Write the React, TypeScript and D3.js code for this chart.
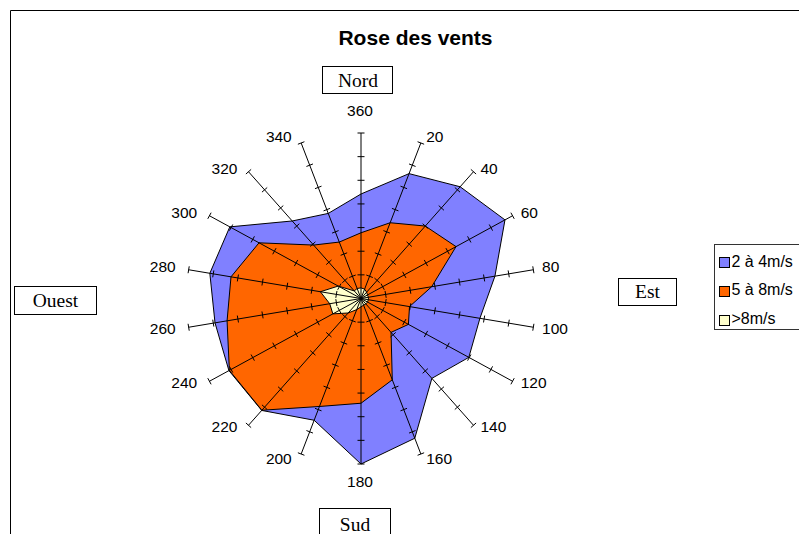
import React from "react";
import * as d3 from "d3";

const directions = [360, 20, 40, 60, 80, 100, 120, 140, 160, 180, 200, 220, 240, 260, 280, 300, 320, 340];
const series2a4 = [4.42, 5.62, 6.17, 6.65, 5.44, 4.83, 4.98, 4.41, 6.29, 7.0, 5.48, 6.18, 6.1, 5.93, 6.14, 6.06, 4.28, 3.83];
const series5a8 = [2.78, 3.41, 4.0, 4.39, 2.87, 1.97, 2.19, 1.87, 3.66, 4.43, 4.86, 6.17, 6.08, 5.44, 5.28, 4.71, 2.95, 2.54];
const seriesPlus8 = [0.45, 0.42, 0.35, 0.3, 0.3, 0.3, 0.3, 0.3, 0.3, 0.35, 0.5, 0.8, 1.3, 1.27, 1.65, 1.05, 0.42, 0.45];
const seriesNames = ["2 à 4m/s", "5 à 8m/s", ">8m/s"];
const seriesColors = ["#8080FF", "#FF6600", "#FFFFCC"];
const axisMax = 7;
const tickValues = [1, 2, 3, 4, 5, 6, 7];

const W = 799;
const H = 534;
const cx = 361;
const cy = 298.5;
const Rx = 175;
const Ry = 165.5;

const rx = d3.scaleLinear().domain([0, axisMax]).range([0, Rx]);
const ry = d3.scaleLinear().domain([0, axisMax]).range([0, Ry]);
const angle = d3.scaleLinear().domain([0, directions.length]).range([0, 2 * Math.PI]);

function pt(i: number, v: number): [number, number] {
  const a = angle(i);
  return [cx + rx(v) * Math.sin(a), cy - ry(v) * Math.cos(a)];
}

const lineGen = d3.line<[number, number]>().curve(d3.curveLinearClosed);

export default function App() {
  const allSeries = [series2a4, series5a8, seriesPlus8];
  const sans = "Liberation Sans, Arial, sans-serif";
  const serif = "Liberation Serif, Times New Roman, serif";

  return (
    <div style={{ position: "absolute", left: 0, top: 0 }}>
      <svg width={W} height={H} style={{ display: "block", background: "#fff" }}>
        <path d={`M10.5,${H} V10.5 H${W}`} fill="none" stroke="#000" strokeWidth={1} />
        <text x={415.5} y={45} textAnchor="middle" fontFamily={sans} fontWeight="bold" fontSize={21}>
          Rose des vents
        </text>

        {allSeries.map((s, k) => (
          <path
            key={k}
            d={lineGen(s.map((v, i) => pt(i, v))) || ""}
            fill={seriesColors[k]}
            stroke="#000"
            strokeWidth={1}
          />
        ))}

        {directions.map((d, i) => {
          const [ex, ey] = pt(i, axisMax);
          const a = angle(i);
          return (
            <g key={"sp" + i}>
              <line x1={cx} y1={cy} x2={ex} y2={ey} stroke="#000" strokeWidth={1} />
              {tickValues.map((t) => {
                const [tx, ty] = pt(i, t);
                const dxs = rx(1) * Math.sin(a);
                const dys = -ry(1) * Math.cos(a);
                const len = Math.hypot(dxs, dys);
                const nx = -dys / len;
                const ny = dxs / len;
                const h = 3.5;
                return (
                  <line
                    key={t}
                    x1={tx - nx * h}
                    y1={ty - ny * h}
                    x2={tx + nx * h}
                    y2={ty + ny * h}
                    stroke="#000"
                    strokeWidth={1}
                  />
                );
              })}
            </g>
          );
        })}

        {directions.map((d, i) => {
          const [ex, ey] = pt(i, axisMax);
          const a = angle(i);
          const s = Math.sin(a);
          const c = Math.cos(a);
          let anchor: "start" | "end" | "middle" = "middle";
          let x = ex - 1;
          let cyl = ey;
          if (Math.abs(s) < 0.1) {
            cyl = c > 0 ? ey - 22.3 : ey + 17.7;
          } else {
            if (s > 0) {
              anchor = "start";
              x = ex + 3.5 + 5.3 * Math.abs(s);
            } else {
              anchor = "end";
              x = ex - (7.5 + 5.5 * Math.abs(s));
            }
            if (c > 0) cyl = ey - (c > 0.9 ? 6.5 : 3.3);
            else cyl = ey + (c < -0.9 ? 4.3 : 1.5);
          }
          return (
            <text key={"lb" + i} x={x} y={cyl + 5.5} textAnchor={anchor} fontFamily={sans} fontSize={15.5}>
              {d}
            </text>
          );
        })}

        <rect x={322.5} y={66.5} width={70} height={27} fill="#fff" stroke="#000" />
        <text x={358} y={86.5} textAnchor="middle" fontFamily={serif} fontSize={19.5}>Nord</text>

        <rect x={14.5} y={286.5} width={82} height={28} fill="#fff" stroke="#000" />
        <text x={55.5} y={306.5} textAnchor="middle" fontFamily={serif} fontSize={19.5}>Ouest</text>

        <rect x={618.5} y={278.5} width={58} height={27} fill="#fff" stroke="#000" />
        <text x={647.5} y={297.5} textAnchor="middle" fontFamily={serif} fontSize={19.5}>Est</text>

        <rect x={319.5} y={508.5} width={71} height={40} fill="#fff" stroke="#000" />
        <text x={355} y={530.5} textAnchor="middle" fontFamily={serif} fontSize={19.5}>Sud</text>

        <rect x={714.5} y={244.5} width={100} height={85} fill="#fff" stroke="#333" />
        {seriesNames.map((n, k) => (
          <g key={"lg" + k}>
            <rect x={719.5} y={257.5 + k * 29} width={10} height={10} fill={seriesColors[k]} stroke="#000" />
            <text x={731.5} y={266.5 + k * 28.5} fontFamily={sans} fontSize={16}>{n}</text>
          </g>
        ))}
      </svg>
    </div>
  );
}
